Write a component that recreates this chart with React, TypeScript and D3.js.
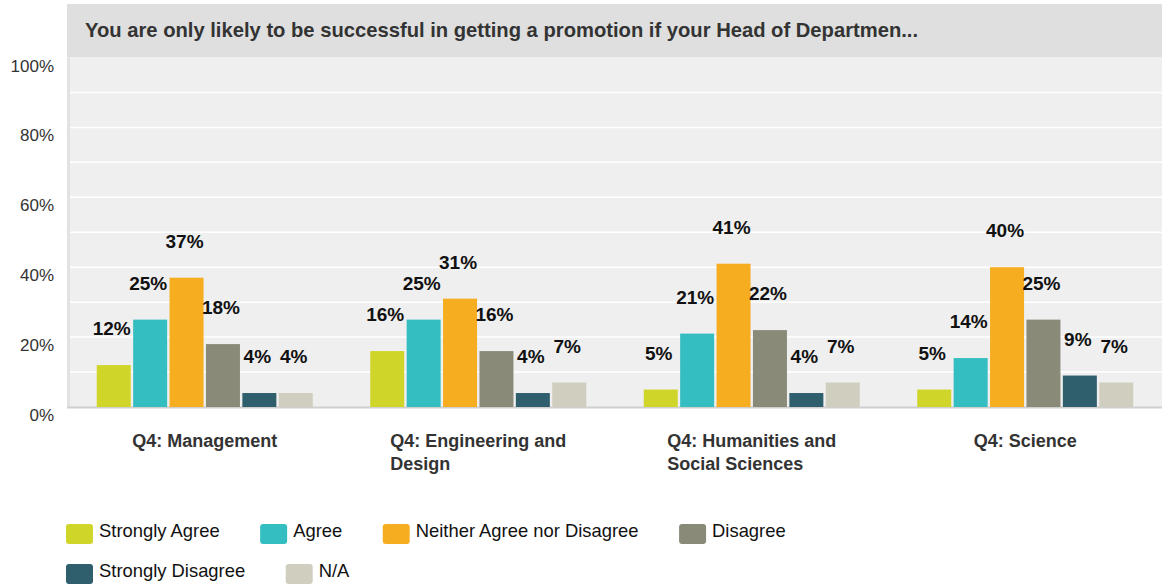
import { useEffect, useRef } from 'react';
import * as d3 from 'd3';

const title = "You are only likely to be successful in getting a promotion if your Head of Departmen...";
const categories = ["Q4: Management", "Q4: Engineering and Design", "Q4: Humanities and Social Sciences", "Q4: Science"];
const categoryLines = [["Q4: Management"], ["Q4: Engineering and", "Design"], ["Q4: Humanities and", "Social Sciences"], ["Q4: Science"]];
const series = ["Strongly Agree", "Agree", "Neither Agree nor Disagree", "Disagree", "Strongly Disagree", "N/A"];
const colors = ["#d0d52a", "#34bec1", "#f6ae20", "#8a8a79", "#2f5f6d", "#d0cebf"];

// percentages per category
const stronglyAgree = [12, 16, 5, 5];
const agree = [25, 25, 21, 14];
const neither = [37, 31, 41, 40];
const disagree = [18, 16, 22, 25];
const stronglyDisagree = [4, 4, 4, 9];
const na = [4, 7, 7, 7];

const yTicks = [0, 20, 40, 60, 80, 100];
const gridTicks = [10, 20, 30, 40, 50, 60, 70, 80, 90];

const FONT = '"Liberation Sans", Arial, Helvetica, sans-serif';

const App = () => {
  const ref = useRef<SVGSVGElement | null>(null);

  useEffect(() => {
    document.body.style.margin = '0';
    const svg = d3.select(ref.current);
    svg.selectAll("*").remove();

    const left = 68, right = 1162, top = 57.5, bottom = 407;
    const values = [stronglyAgree, agree, neither, disagree, stronglyDisagree, na];

    const y = d3.scaleLinear().domain([0, 100]).range([bottom, top]);
    const x0 = d3.scaleBand().domain(categories).range([left, right]);
    const x1 = d3.scaleBand().domain(series).range([-108, 108]).paddingInner(0.066);

    // title bar
    svg.append("rect")
      .attr("x", 67).attr("y", 4)
      .attr("width", right - 67).attr("height", top - 4)
      .attr("fill", "#dfdfdf");
    svg.append("text")
      .attr("x", 85).attr("y", 36.5)
      .attr("font-family", FONT).attr("font-size", 20.2).attr("font-weight", "bold")
      .attr("fill", "#333")
      .text(title);

    // plot background
    svg.append("rect")
      .attr("x", left).attr("y", top)
      .attr("width", right - left).attr("height", bottom - top)
      .attr("fill", "#efefef");
    svg.append("rect")
      .attr("x", 67).attr("y", top)
      .attr("width", 3).attr("height", bottom - top + 1)
      .attr("fill", "#e2e2e2");

    svg.append("g")
      .selectAll("line")
      .data(gridTicks)
      .enter().append("line")
      .attr("x1", 70).attr("x2", right)
      .attr("y1", d => y(d)).attr("y2", d => y(d))
      .attr("stroke", "#ffffff").attr("stroke-width", 1.5);

    svg.append("line")
      .attr("x1", 67).attr("x2", right)
      .attr("y1", bottom + 0.5).attr("y2", bottom + 0.5)
      .attr("stroke", "#cfcfcf").attr("stroke-width", 2);

    // y labels
    svg.append("g")
      .selectAll("text")
      .data(yTicks)
      .enter().append("text")
      .attr("x", 54).attr("y", d => y(d) + 14)
      .attr("text-anchor", "end")
      .attr("font-family", FONT).attr("font-size", 17)
      .attr("fill", "#333")
      .text(d => `${d}%`);

    const rows = categories.flatMap((c, i) =>
      series.map((s, j) => ({ c, s, v: values[j][i], color: colors[j] })));

    const cx = (d: { c: string; s: string }) =>
      x0(d.c)! + x0.bandwidth() / 2 + x1(d.s)!;

    svg.append("g")
      .selectAll("rect")
      .data(rows)
      .enter().append("rect")
      .attr("x", d => cx(d))
      .attr("y", d => y(d.v))
      .attr("width", x1.bandwidth())
      .attr("height", d => bottom - y(d.v))
      .attr("fill", d => d.color);

    svg.append("g")
      .selectAll("text")
      .data(rows)
      .enter().append("text")
      .attr("x", d => cx(d) + x1.bandwidth() / 2 - 2)
      .attr("y", d => y(d.v) - 30)
      .attr("text-anchor", "middle")
      .attr("font-family", FONT).attr("font-size", 19).attr("font-weight", "bold")
      .attr("fill", "#111")
      .text(d => `${d.v}%`);

    // category labels: block centred, lines left aligned
    categories.forEach((c, i) => {
      const t = svg.append("text")
        .attr("font-family", FONT).attr("font-size", 18).attr("font-weight", "bold")
        .attr("fill", "#333");
      const spans = categoryLines[i].map((line, k) =>
        t.append("tspan").attr("y", 446.5 + k * 23.5).text(line));
      const w = d3.max(spans, s => (s.node() as SVGTSpanElement).getComputedTextLength()) || 0;
      const xs = x0(c)! + x0.bandwidth() / 2 - w / 2;
      spans.forEach(s => s.attr("x", xs));
    });

    // legend, flowing
    const legend = svg.append("g");
    let lx = 66, ly = 524;
    series.forEach((s, j) => {
      const g = legend.append("g");
      const txt = g.append("text")
        .attr("font-family", FONT).attr("font-size", 18.4)
        .attr("fill", "#111")
        .text(s);
      const w = 33 + (txt.node() as SVGTextElement).getComputedTextLength();
      if (lx + w > 900) { lx = 66; ly += 40; }
      g.append("rect")
        .attr("x", lx).attr("y", ly)
        .attr("width", 27).attr("height", 20).attr("rx", 3)
        .attr("fill", colors[j]);
      txt.attr("x", lx + 33).attr("y", ly + 12.5);
      lx += w + 40.5;
    });
  }, []);

  return <svg ref={ref} width={1169} height={587} style={{ display: 'block' }}></svg>;
};

export default App;
